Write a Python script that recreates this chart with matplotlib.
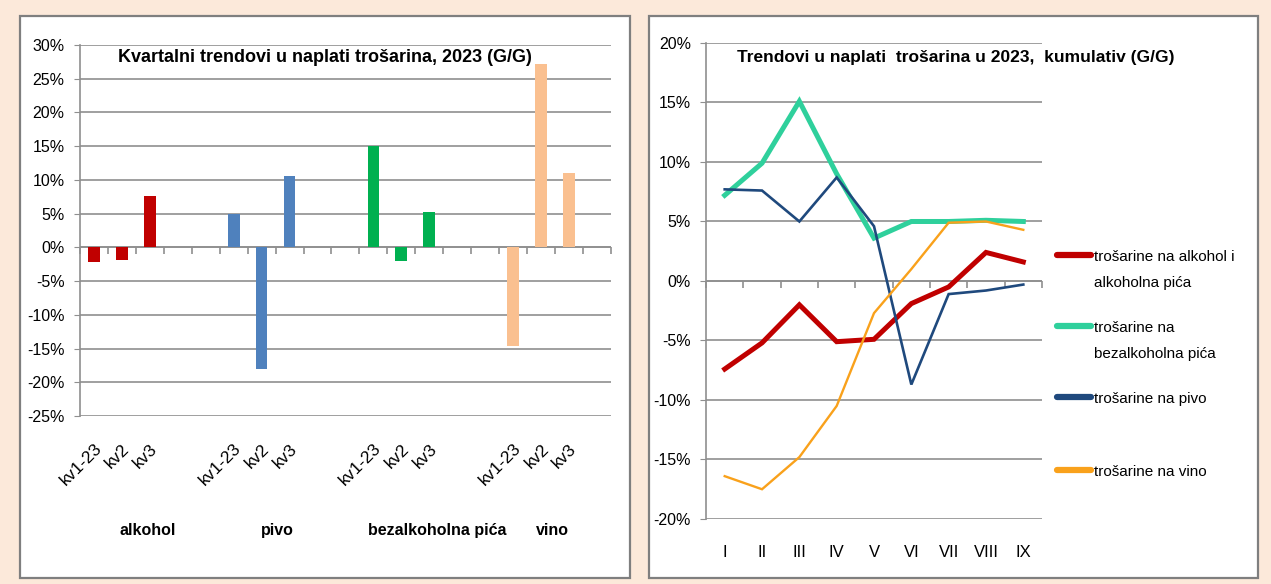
import numpy as np
import matplotlib
matplotlib.use("Agg")
import matplotlib.pyplot as plt
from matplotlib import font_manager
from matplotlib.markers import TICKDOWN
from matplotlib.patches import Rectangle

# pick a condensed font if available (reference uses Calibri)
installed = {f.name for f in font_manager.fontManager.ttflist}
narrow = "Liberation Sans Narrow" if "Liberation Sans Narrow" in installed else "Liberation Sans"
plt.rcParams["font.family"] = [narrow, "DejaVu Sans"]

# ---- left chart data: quarterly y/y change (%) ----
quarters = ["kv1-23", "kv2", "kv3"]
groups = ["alkohol", "pivo", "bezalkoholna pića", "vino"]
alkohol_q = [-2.2, -1.8, 7.6]
pivo_q = [5.0, -18.0, 10.6]
bezalk_q = [15.1, -2.0, 5.3]
vino_q = [-14.6, 27.2, 11.0]
bar_colors = ["#C00000", "#4F81BD", "#00B050", "#FAC090"]

# ---- right chart data: cumulative y/y change (%) ----
months = ["I", "II", "III", "IV", "V", "VI", "VII", "VIII", "IX"]
alkohol_cum = [-7.4, -5.2, -2.0, -5.1, -4.9, -1.9, -0.5, 2.4, 1.6]
bezalk_cum = [7.2, 9.9, 15.1, 9.0, 3.6, 5.0, 5.0, 5.1, 5.0]
pivo_cum = [7.7, 7.6, 5.0, 8.7, 4.6, -8.7, -1.1, -0.8, -0.3]
vino_cum = [-16.4, -17.5, -14.8, -10.5, -2.7, 1.0, 4.9, 5.0, 4.3]
line_labels = ["trošarine na alkohol i\nalkoholna pića", "trošarine na\nbezalkoholna pića",
               "trošarine na pivo", "trošarine na vino"]
line_colors = ["#C00000", "#2FD09C", "#1F497D", "#F9A11B"]
line_widths = [3.6, 3.6, 1.9, 1.7]

bg = "#FCE9DA"
grid_c = "#8F8F8F"

fig = plt.figure(figsize=(12.71, 5.84), dpi=100)
fig.patch.set_facecolor(bg)

# white panels behind each chart
for x0, w in [(0.0157, 0.480), (0.5106, 0.4792)]:
    fig.patches.append(Rectangle((x0, 0.0103), w, 0.9623, transform=fig.transFigure,
                                 facecolor="white", edgecolor="#7F7F7F", linewidth=1.6, zorder=-5))


def style_axis(ax):
    ax.set_facecolor("none")
    ax.grid(axis="y", color=grid_c, linewidth=1.2, zorder=0)
    for s in ["top", "right", "bottom"]:
        ax.spines[s].set_visible(False)
    ax.spines["left"].set_color(grid_c)
    ax.spines["left"].set_linewidth(1.2)
    ax.tick_params(axis="y", length=4, color=grid_c, pad=7, labelsize=11.5)


def zero_axis(ax, n):
    # category axis crossing at 0 with tick marks between categories
    ax.axhline(0, color=grid_c, linewidth=1.2, zorder=2)
    b = np.arange(-0.5, n, 1)
    ax.plot(b, np.zeros_like(b), linestyle="none", marker=TICKDOWN, markersize=5,
            markeredgewidth=1.2, color=grid_c, zorder=2, clip_on=False)


# ================= left: bar chart =================
ax1 = fig.add_axes([0.0629, 0.2877, 0.4178, 0.6352])
style_axis(ax1)
n_cat = 19
group_start = [0, 5, 10, 15]
series_q = [alkohol_q, pivo_q, bezalk_q, vino_q]
for start, vals, col in zip(group_start, series_q, bar_colors):
    xs = np.arange(start, start + len(vals))
    ax1.bar(xs, vals, width=0.42, color=col, zorder=3)

ax1.set_xlim(-0.5, n_cat - 0.5)
ax1.set_ylim(-25, 30)
ax1.set_yticks(np.arange(-25, 31, 5))
ax1.set_yticklabels([f"{v}%" for v in range(-25, 31, 5)])
zero_axis(ax1, n_cat)

label_x = []
label_t = []
for start in group_start:
    for i, q in enumerate(quarters):
        label_x.append(start + i)
        label_t.append(q)
ax1.set_xticks(label_x)
ax1.set_xticklabels(label_t, rotation=45, ha="right", rotation_mode="anchor", fontsize=12.5)
ax1.tick_params(axis="x", length=0, pad=18)

group_pos = [1.93, 6.55, 12.27, 16.4]
for gx, g in zip(group_pos, groups):
    ax1.text(gx, -42, g, ha="center", va="center", fontsize=11.5, fontweight="bold")

ax1.text(0.462, 0.967, "Kvartalni trendovi u naplati trošarina, 2023 (G/G)", transform=ax1.transAxes,
         ha="center", va="center", fontsize=13, fontweight="bold", zorder=5)

# ================= right: line chart =================
ax2 = fig.add_axes([0.5555, 0.1113, 0.2643, 0.8151])
style_axis(ax2)
x = np.arange(len(months))
series_cum = [alkohol_cum, bezalk_cum, pivo_cum, vino_cum]
draw_order = [3, 0, 1, 2]
for k in draw_order:
    ax2.plot(x, series_cum[k], color=line_colors[k], linewidth=line_widths[k], zorder=3 + k,
             solid_joinstyle="miter")

ax2.set_xlim(-0.5, len(months) - 0.5)
ax2.set_ylim(-20, 20)
ax2.set_yticks(np.arange(-20, 21, 5))
ax2.set_yticklabels([f"{v}%" for v in range(-20, 21, 5)])
zero_axis(ax2, len(months))
ax2.set_xticks(x)
ax2.set_xticklabels(months, fontsize=12)
ax2.tick_params(axis="x", length=0, pad=19)

ax2.text(0.092, 0.97, "Trendovi u naplati  trošarina u 2023,  kumulativ (G/G)", transform=ax2.transAxes,
         ha="left", va="center", fontsize=12.5, fontweight="bold", zorder=6)

# manual legend to the right of the plot
leg_y = [0.5546, 0.4055, 0.2563, 0.1030]
for yy, lab, col in zip(leg_y, line_labels, line_colors):
    ax2.plot([1.045, 1.146], [yy, yy], transform=ax2.transAxes, color=col, linewidth=4.5,
             clip_on=False, solid_capstyle="round")
    ax2.text(1.155, yy + 0.011, lab, transform=ax2.transAxes, ha="left", va="top",
             fontsize=11, linespacing=2.15)

fig.savefig("out.png", dpi=100, facecolor=bg)
